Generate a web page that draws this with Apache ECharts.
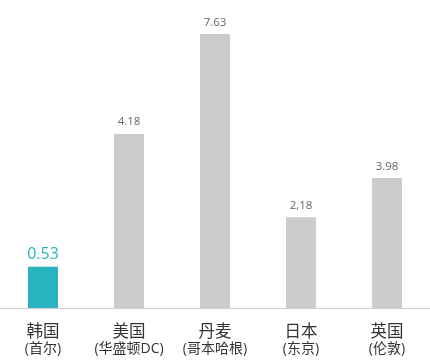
<!DOCTYPE html>
<html>
<head>
<meta charset="utf-8">
<script src="https://cdn.jsdelivr.net/npm/echarts@6/dist/echarts.min.js"></script>
<style>html,body{margin:0;padding:0;background:#fff}#c{width:430px;height:363px}</style>
</head>
<body>
<div id="c"></div>
<script>
// Cities (two-line category labels)
var countries = ['韩国', '美国', '丹麦', '日本', '英国'];
var cities = ['(首尔)', '(华盛顿DC)', '(哥本哈根)', '(东京)', '(伦敦)'];
// Displayed value labels (as printed in the reference)
var valueLabels = ['0.53', '4.18', '7.63', '2,18', '3.98'];
// Bar heights as drawn in the reference (the original is not to scale)
var barHeights = [1.15, 4.85, 7.63, 2.53, 3.62];

var TEAL = '#29b3c0';
var GREY = '#cccccc';
var FONT = '"Open Sans", "Noto Sans CJK SC", sans-serif';

var chart = echarts.init(document.getElementById('c'));
chart.setOption({
  animation: false,
  grid: { left: 0, right: 0, top: 0, bottom: 55 },
  xAxis: {
    type: 'category',
    data: countries,
    axisLine: { lineStyle: { color: '#cfcfcf', width: 1 } },
    axisTick: { show: false },
    axisLabel: {
      margin: 15,
      interval: 0,
      formatter: function (v, i) { return '{a|' + v + '}\n{b|' + cities[i] + '}'; },
      rich: {
        a: { fontSize: 16.5, lineHeight: 18, color: '#333', fontFamily: FONT },
        b: { fontSize: 14, lineHeight: 16, color: '#333', fontFamily: FONT }
      }
    }
  },
  yAxis: {
    type: 'value', min: 0, max: 8.58, show: false,
    splitLine: { show: false }
  },
  series: [{
    type: 'bar',
    barWidth: 30,
    data: barHeights.map(function (v, i) {
      var first = i === 0;
      return {
        value: v,
        itemStyle: { color: first ? TEAL : GREY },
        label: {
          show: true,
          position: 'top',
          distance: first ? 4 : 6,
          formatter: valueLabels[i],
          color: first ? TEAL : '#666',
          fontSize: first ? 16 : 11.5,
          fontFamily: FONT
        }
      };
    })
  }]
});
</script>
</body>
</html>
